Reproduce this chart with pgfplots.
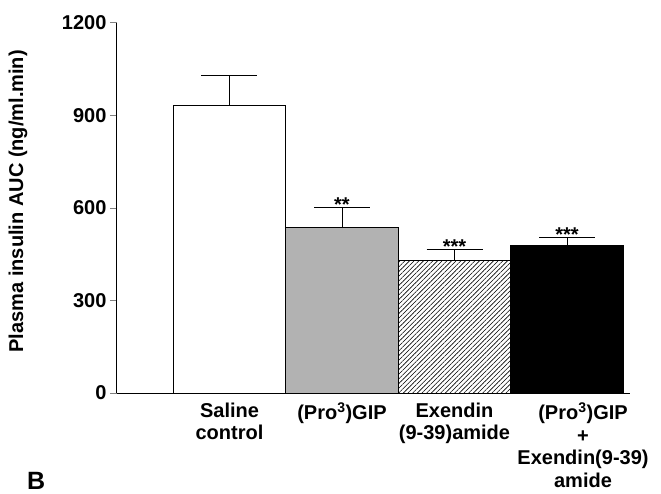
\documentclass[border=0pt]{standalone}
\usepackage{fontspec}
\setmainfont{Liberation Sans}
\usepackage{pgfplots}
\pgfplotsset{compat=1.18}
\usetikzlibrary{patterns.meta}

\newcommand\lab{\fontsize{20}{22.5}\selectfont\bfseries}

\begin{document}
\begin{tikzpicture}
\begin{axis}[
    scale only axis,
    width=513pt, height=370pt,
    ybar, bar width=1,
    xmin=-1, xmax=3.56,
    ymin=0, ymax=1200,
    ytick={0,300,600,900,1200},
    xtick={0,1,2},
    xticklabels={{Saline\\control}, {(Pro\textsuperscript{3})GIP},
      {Exendin\\(9-39)amide}},
    extra x ticks={3},
    extra x tick labels={{(Pro\textsuperscript{3})GIP\\+\\Exendin(9-39)\\amide}},
    extra x tick style={xticklabel style={xshift=16pt}, tick style={draw=none}},
    xticklabel style={align=center, font=\lab, yshift=1pt},
    yticklabel style={font=\lab},
    /pgf/number format/assume math mode=true,
    /pgf/number format/1000 sep={},
    axis lines=left,
    axis line style={-, line width=1pt},
    xtick style={draw=none},
    ytick style={line width=1pt},
    tick align=outside, major tick length=7pt,
    ylabel={Plasma insulin AUC (ng/ml.min)},
    ylabel style={font=\lab, at={(axis description cs:-0.193,0.518)}, anchor=center},
    every axis plot/.append style={bar shift=0pt, line width=1pt},
    error bars/y dir=plus, error bars/y explicit,
    error bars/error bar style={line width=1pt, black},
    error bars/error mark options={rotate=90, line width=1pt, mark size=28pt, black},
]
\addplot[fill=white, draw=black] coordinates {(0,931) +- (0,100)};
\addplot[fill=black!30, draw=black] coordinates {(1,538) +- (0,65)};
\addplot[pattern={Lines[angle=45, distance=3.3pt, line width=0.6pt]}, draw=black] coordinates {(2,431) +- (0,36)};
\addplot[fill=black, draw=black] coordinates {(3,480) +- (0,23)};
% significance stars
\addplot[draw=none, fill=none, forget plot, error bars/y dir=none,
    nodes near coords, point meta=explicit symbolic,
    nodes near coords style={font=\lab, anchor=base, yshift=-4pt}]
    coordinates {(1,603)[**] (2,467)[***] (3,503)[***]};
\end{axis}
\node[anchor=base west, font=\fontsize{25}{25}\selectfont\bfseries, inner sep=0pt]
    at ([xshift=-90pt,yshift=-96pt]current axis.south west) {B};
\pgfresetboundingbox
\path ([xshift=-117pt,yshift=-100pt]current axis.south west) rectangle ([xshift=31pt,yshift=23pt]current axis.north east);
\end{tikzpicture}
\end{document}
